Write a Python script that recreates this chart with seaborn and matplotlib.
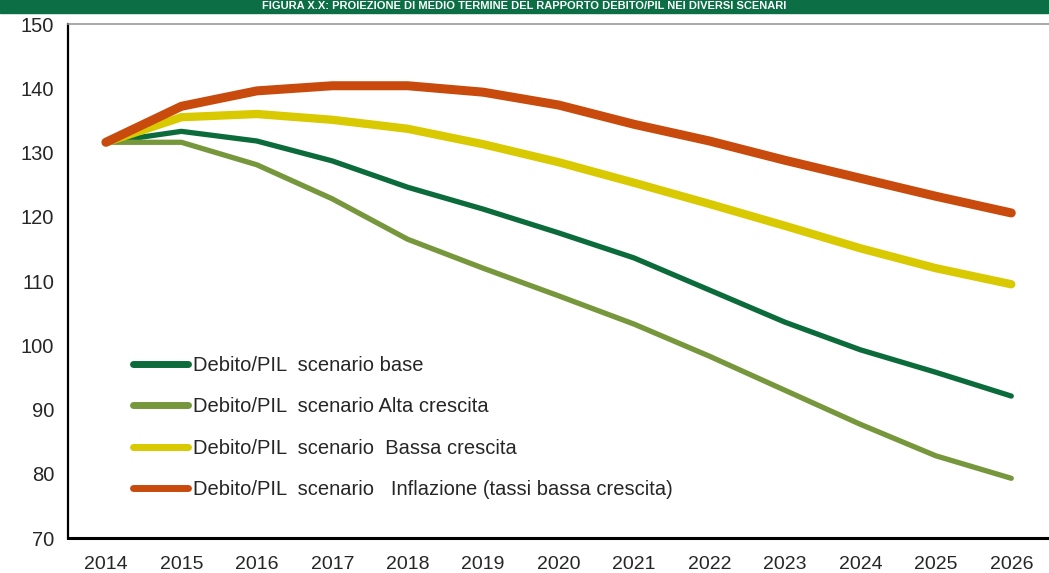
import numpy as np
import pandas as pd
import matplotlib.pyplot as plt
import seaborn as sns
from matplotlib.lines import Line2D

# --- data ---
years = [str(y) for y in range(2014, 2027)]
base = [131.6, 133.3, 131.8, 128.7, 124.6, 121.2, 117.5, 113.6, 108.6, 103.6, 99.3, 95.8, 92.1]
alta = [131.6, 131.6, 128.1, 122.8, 116.5, 112.0, 107.7, 103.3, 98.3, 93.0, 87.7, 82.8, 79.3]
bassa = [131.6, 135.5, 136.0, 135.1, 133.7, 131.3, 128.5, 125.3, 122.0, 118.6, 115.1, 112.0, 109.5]
inflazione = [131.6, 137.2, 139.6, 140.4, 140.4, 139.4, 137.4, 134.4, 131.8, 128.8, 126.0, 123.2, 120.6]

labels = ['Debito/PIL  scenario base',
          'Debito/PIL  scenario Alta crescita',
          'Debito/PIL  scenario  Bassa crescita',
          'Debito/PIL  scenario   Inflazione (tassi bassa crescita)']
colors = ['#0b6b3a', '#76973b', '#d9c900', '#c84a0c']
widths = [3.8, 3.8, 6.0, 6.5]

df = pd.DataFrame({
    'year': years * 4,
    'value': base + alta + bassa + inflazione,
    'scenario': np.repeat(labels, len(years)),
})
df['x'] = df['year'].map({y: i for i, y in enumerate(years)})

sns.set_theme(style='white')
plt.rcParams['font.family'] = ['Liberation Sans', 'DejaVu Sans']

fig = plt.figure(figsize=(10.49, 5.73), dpi=100)
ax = fig.add_axes([0.065, 0.061, 0.935, 0.897])

sns.lineplot(data=df, x='x', y='value', hue='scenario', hue_order=labels,
             palette=dict(zip(labels, colors)), ax=ax, legend=False)
for line, lw in zip(ax.lines, widths):
    line.set_linewidth(lw)
    line.set_solid_capstyle('round')
    line.set_solid_joinstyle('round')

ax.set_xlim(-0.5, len(years) - 0.5)
ax.set_ylim(70, 150)
ax.set_yticks(range(70, 151, 10))
ax.set_xticks(np.arange(-0.5, len(years), 1.0))
ax.set_xticklabels([])
ax.set_xticks(range(len(years)), minor=True)
ax.set_xticklabels(years, minor=True)
ax.tick_params(axis='x', which='major', direction='out', length=8, width=1, color='black')
ax.tick_params(axis='x', which='minor', length=0, pad=13, labelsize=14)
ax.tick_params(axis='y', direction='out', length=6, width=1, color='black', labelsize=14.5, pad=4)
ax.set_xlabel('')
ax.set_ylabel('')

ax.spines['right'].set_visible(False)
ax.spines['top'].set_color('#9a9a9a')
ax.spines['top'].set_linewidth(1.2)
ax.spines['left'].set_color('black')
ax.spines['left'].set_linewidth(1.6)
ax.spines['bottom'].set_color('black')
ax.spines['bottom'].set_linewidth(2.2)

handles = [Line2D([0], [0], color=c, lw=5, solid_capstyle='round') for c in colors]
ax.legend(handles, labels, loc='lower left', bbox_to_anchor=(0.048, 0.04),
          frameon=False, fontsize=14.5, handlelength=2.7, handletextpad=0.25,
          labelspacing=1.12)

# green header band with the (partly hidden) figure title
fig.patches.append(plt.Rectangle((0, 0.978), 1, 0.03, transform=fig.transFigure,
                                 color='#0b6e45', zorder=0))
fig.text(0.5, 0.989, 'FIGURA X.X: PROIEZIONE DI MEDIO TERMINE DEL RAPPORTO DEBITO/PIL NEI DIVERSI SCENARI',
         color='white', fontsize=8, fontweight='bold', va='center', ha='center')

fig.savefig('out.png', dpi=100)
